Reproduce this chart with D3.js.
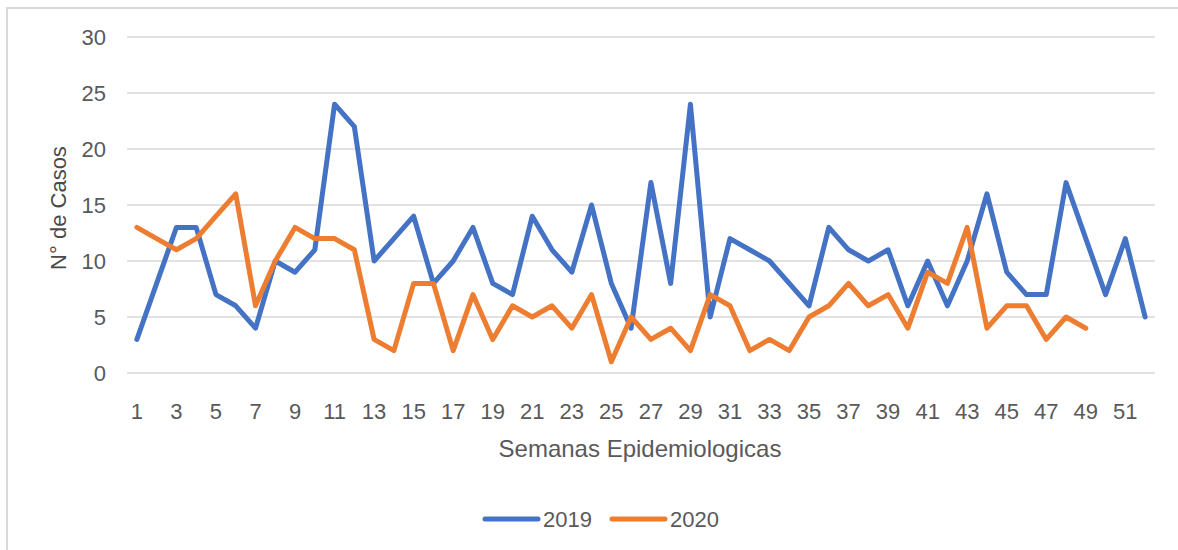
<!DOCTYPE html>
<html>
<head>
<meta charset="utf-8">
<script src="https://cdn.jsdelivr.net/npm/d3@7"></script>
<style>
  body { margin: 0; background: #fff; }
  svg { display: block; }
</style>
</head>
<body>
<svg id="chart" width="1178" height="550"></svg>
<script>
// weekly cases
const weeks = d3.range(1, 53);
const cases2019 = [3, 8, 13, 13, 7, 6, 4, 10, 9, 11, 24, 22, 10, 12, 14, 8, 10, 13, 8, 7,
    14, 11, 9, 15, 8, 4, 17, 8, 24, 5, 12, 11, 10, 8, 6, 13, 11, 10, 11, 6,
    10, 6, 10, 16, 9, 7, 7, 17, 12, 7, 12, 5];
const cases2020 = [13, 12, 11, 12, 14, 16, 6, 10, 13, 12, 12, 11, 3, 2, 8, 8, 2, 7, 3, 6,
    5, 6, 4, 7, 1, 5, 3, 4, 2, 7, 6, 2, 3, 2, 5, 6, 8, 6, 7, 4,
    9, 8, 13, 4, 6, 6, 3, 5, 4];
const yTicks = [0, 5, 10, 15, 20, 25, 30];
const seriesNames = ['2019', '2020'];
const seriesColors = ['#4472C4', '#ED7D31'];

const font = '"Liberation Sans", Arial, sans-serif';
const textColor = '#595959';

const svg = d3.select('#chart');

// chart frame (runs off the right/bottom of the picture)
svg.append('rect')
    .attr('x', 7).attr('y', 8)
    .attr('width', 1200).attr('height', 600)
    .attr('fill', 'none')
    .attr('stroke', '#d9d9d9')
    .attr('stroke-width', 2);

const x = d3.scaleBand()
    .domain(weeks)
    .range([127, 1155]);

const y = d3.scaleLinear()
    .domain([0, 30])
    .range([373, 37]);

// gridlines
svg.append('g')
    .selectAll('line')
    .data(yTicks)
    .join('line')
    .attr('x1', 127).attr('x2', 1155)
    .attr('y1', d => y(d)).attr('y2', d => y(d))
    .attr('stroke', '#d9d9d9')
    .attr('stroke-width', 1.5);

// y tick labels
svg.append('g')
    .selectAll('text')
    .data(yTicks)
    .join('text')
    .attr('x', 106)
    .attr('y', d => y(d))
    .attr('dy', '0.36em')
    .attr('text-anchor', 'end')
    .attr('font-family', font)
    .attr('font-size', 22)
    .attr('fill', textColor)
    .text(d => d);

// x tick labels, every other week
svg.append('g')
    .selectAll('text')
    .data(weeks.filter(w => w % 2 === 1))
    .join('text')
    .attr('x', d => x(d) + x.bandwidth() / 2)
    .attr('y', 419)
    .attr('text-anchor', 'middle')
    .attr('font-family', font)
    .attr('font-size', 22)
    .attr('fill', textColor)
    .text(d => d);

// axis titles
svg.append('text')
    .attr('transform', 'translate(66,208) rotate(-90)')
    .attr('text-anchor', 'middle')
    .attr('font-family', font)
    .attr('font-size', 22)
    .attr('fill', '#4a4a4a')
    .text('N° de Casos');

svg.append('text')
    .attr('x', 640)
    .attr('y', 457)
    .attr('text-anchor', 'middle')
    .attr('font-family', font)
    .attr('font-size', 24)
    .attr('fill', textColor)
    .text('Semanas Epidemiologicas');

// series lines
const line = d3.line()
    .x((d, i) => x(weeks[i]) + x.bandwidth() / 2)
    .y(d => y(d));

[cases2019, cases2020].forEach((vals, i) => {
    svg.append('path')
        .datum(vals)
        .attr('d', line)
        .attr('fill', 'none')
        .attr('stroke', seriesColors[i])
        .attr('stroke-width', 5)
        .attr('stroke-linejoin', 'round')
        .attr('stroke-linecap', 'round');
});

// legend
const legend = svg.append('g')
    .selectAll('g')
    .data(seriesNames)
    .join('g')
    .attr('transform', (d, i) => `translate(${485 + i * 127},519)`);

legend.append('line')
    .attr('x1', 0).attr('x2', 53)
    .attr('stroke', (d, i) => seriesColors[i])
    .attr('stroke-width', 5)
    .attr('stroke-linecap', 'round');

legend.append('text')
    .attr('x', 58)
    .attr('dy', '0.36em')
    .attr('font-family', font)
    .attr('font-size', 22)
    .attr('fill', textColor)
    .text(d => d);
</script>
</body>
</html>
